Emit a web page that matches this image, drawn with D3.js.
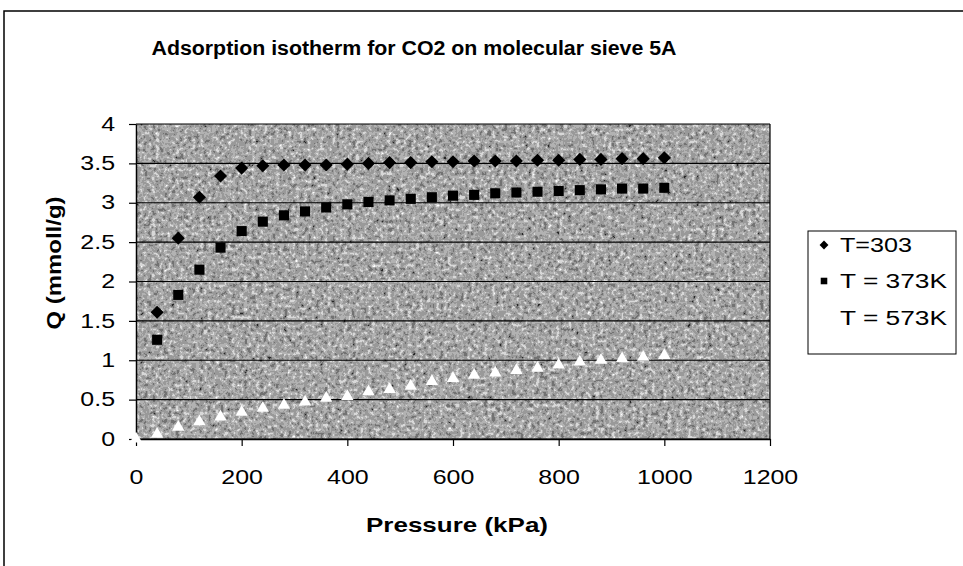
<!DOCTYPE html>
<html>
<head>
<meta charset="utf-8">
<script src="https://cdn.jsdelivr.net/npm/d3@7"></script>
<style>
  body { margin: 0; background: #fff; }
  svg { font-family: "Liberation Sans", Arial, sans-serif; }
</style>
</head>
<body>
<svg id="chart"></svg>
<script>
var w = 963;
var h = 566;

// pressure in kPa
var pressure = [0, 40, 80, 120, 160, 200, 240, 280, 320, 360, 400, 440, 480, 520, 560,
                600, 640, 680, 720, 760, 800, 840, 880, 920, 960, 1000];
// Q (mmol/g), null where no point
var q303 = [null, 1.61, 2.55, 3.07, 3.34, 3.44, 3.47, 3.48, 3.48, 3.48, 3.49, 3.50, 3.51, 3.51, 3.52,
            3.52, 3.53, 3.53, 3.53, 3.54, 3.54, 3.55, 3.55, 3.56, 3.56, 3.57];
var q373 = [null, 1.26, 1.83, 2.15, 2.43, 2.64, 2.76, 2.84, 2.89, 2.94, 2.98, 3.01, 3.03, 3.05, 3.07,
            3.09, 3.10, 3.12, 3.13, 3.14, 3.15, 3.16, 3.17, 3.18, 3.18, 3.19];
var q573 = [0, 0.06, 0.15, 0.22, 0.28, 0.34, 0.39, 0.43, 0.47, 0.52, 0.54, 0.60, 0.63, 0.67, 0.73,
            0.77, 0.81, 0.84, 0.87, 0.90, 0.94, 0.98, 1.00, 1.02, 1.04, 1.06];
var seriesNames = ["T=303", "T = 373K", "T = 573K"];
var xTicks = [0, 200, 400, 600, 800, 1000, 1200];
var yTicks = [0, 0.5, 1, 1.5, 2, 2.5, 3, 3.5, 4];

// the scanned chart is a bit wider than tall, so text gets stretched sideways
var stretch = 1.28;

var svg = d3.select("#chart")
    .attr("width", w)
    .attr("height", h);

// dithered grey texture for the plot area
var defs = svg.append("defs");
var filt = defs.append("filter")
    .attr("id", "dither")
    .attr("x", 0).attr("y", 0).attr("width", 1).attr("height", 1)
    .attr("color-interpolation-filters", "sRGB");
filt.append("feTurbulence")
    .attr("type", "fractalNoise")
    .attr("baseFrequency", "0.25")
    .attr("numOctaves", 4)
    .attr("seed", 7);
filt.append("feColorMatrix")
    .attr("type", "saturate")
    .attr("values", 0);
var ct = filt.append("feComponentTransfer");
["feFuncR", "feFuncG", "feFuncB"].forEach(function (f) {
    ct.append(f).attr("type", "discrete").attr("tableValues", "0 0.15 0.45 0.6 0.7 0.85 1 1");
});
ct.append("feFuncA").attr("type", "discrete").attr("tableValues", "1");

// outer chart frame
svg.append("path")
    .attr("d", "M4,566 L4,11 L963,11")
    .attr("fill", "none")
    .attr("stroke", "#000")
    .attr("stroke-width", 1.5);

var x = d3.scaleLinear().domain([0, 1200]).range([136, 770]);
var y = d3.scaleLinear().domain([0, 4]).range([439, 124]);

// plot background
svg.append("rect")
    .attr("x", x(0))
    .attr("y", y(4))
    .attr("width", x(1200) - x(0))
    .attr("height", y(0) - y(4))
    .attr("fill", "#9a9a9a")
    .attr("filter", "url(#dither)");

// gridlines
svg.append("g")
    .selectAll("line")
    .data(yTicks)
    .enter().append("line")
    .attr("x1", x(0))
    .attr("x2", x(1200))
    .attr("y1", d => y(d))
    .attr("y2", d => y(d))
    .attr("stroke", "#000")
    .attr("stroke-width", 1.2);

// right border of plot
svg.append("line")
    .attr("x1", x(1200)).attr("x2", x(1200))
    .attr("y1", y(4)).attr("y2", y(0))
    .attr("stroke", "#000")
    .attr("stroke-width", 1.2);

var yAxis = svg.append("g")
    .attr("transform", "translate(" + x(0) + ",0)")
    .call(d3.axisLeft(y).tickValues(yTicks).tickSize(7).tickSizeOuter(0).tickPadding(14)
          .tickFormat(d => String(d)));
var xAxis = svg.append("g")
    .attr("transform", "translate(0," + y(0) + ")")
    .call(d3.axisBottom(x).tickValues(xTicks).tickSize(7).tickSizeOuter(0).tickPadding(24)
          .tickFormat(d => String(d)));

[yAxis, xAxis].forEach(function (a) {
    a.select(".domain").attr("stroke", "#000").attr("stroke-width", 1.5);
    a.selectAll(".tick line").attr("stroke", "#000").attr("stroke-width", 1.2);
    a.selectAll("text")
        .attr("fill", "#000")
        .style("font-family", "'Liberation Sans', Arial, sans-serif")
        .style("font-size", "19.5px");
});
// widen tick labels like the scan
xAxis.selectAll(".tick text").attr("transform", "scale(" + stretch + ",1)");
yAxis.selectAll(".tick text")
    .attr("x", -21 / stretch)
    .attr("transform", "scale(" + stretch + ",1)");

// markers
var diamond = d3.symbol().type(d3.symbolDiamond2).size(110);
var square = d3.symbol().type(d3.symbolSquare2).size(130);
var triangle = d3.symbol().type(d3.symbolTriangle2).size(110);

function points(values, sym, fill) {
    var pts = pressure.map((p, i) => [p, values[i]]).filter(d => d[1] !== null);
    svg.append("g")
        .selectAll("path")
        .data(pts)
        .enter().append("path")
        .attr("transform", d => "translate(" + x(d[0]) + "," + y(d[1]) + ")")
        .attr("d", sym)
        .attr("fill", fill);
}
points(q573, triangle, "#fff");
points(q373, square, "#000");
points(q303, diamond, "#000");

// titles
svg.append("text")
    .attr("x", 414)
    .attr("y", 55)
    .attr("text-anchor", "middle")
    .attr("textLength", 525)
    .attr("lengthAdjust", "spacingAndGlyphs")
    .style("font-size", "20px")
    .style("font-weight", "bold")
    .text("Adsorption isotherm for CO2 on molecular sieve 5A");

svg.append("text")
    .attr("x", 457)
    .attr("y", 532)
    .attr("text-anchor", "middle")
    .attr("textLength", 182)
    .attr("lengthAdjust", "spacingAndGlyphs")
    .style("font-size", "21px")
    .style("font-weight", "bold")
    .text("Pressure (kPa)");

svg.append("text")
    .attr("transform", "translate(61,263) rotate(-90)")
    .attr("text-anchor", "middle")
    .attr("textLength", 133)
    .attr("lengthAdjust", "spacingAndGlyphs")
    .style("font-size", "21px")
    .style("font-weight", "bold")
    .text("Q (mmoll/g)");

// legend
var legend = svg.append("g");
legend.append("rect")
    .attr("x", 808).attr("y", 231)
    .attr("width", 148).attr("height", 123)
    .attr("fill", "#fff")
    .attr("stroke", "#000")
    .attr("stroke-width", 1);

var legSyms = [d3.symbol().type(d3.symbolDiamond2).size(50),
               d3.symbol().type(d3.symbolSquare2).size(55),
               d3.symbol().type(d3.symbolTriangle2).size(50)];
var legFills = ["#000", "#000", "#fff"];
var legY = [245, 281, 318];
var legW = [72, 107, 107];
seriesNames.forEach(function (name, i) {
    legend.append("path")
        .attr("transform", "translate(824," + legY[i] + ")")
        .attr("d", legSyms[i])
        .attr("fill", legFills[i]);
    legend.append("text")
        .attr("x", 840)
        .attr("y", legY[i] + 7)
        .attr("textLength", legW[i])
        .attr("lengthAdjust", "spacingAndGlyphs")
        .style("font-size", "19.5px")
        .text(name);
});
</script>
</body>
</html>
